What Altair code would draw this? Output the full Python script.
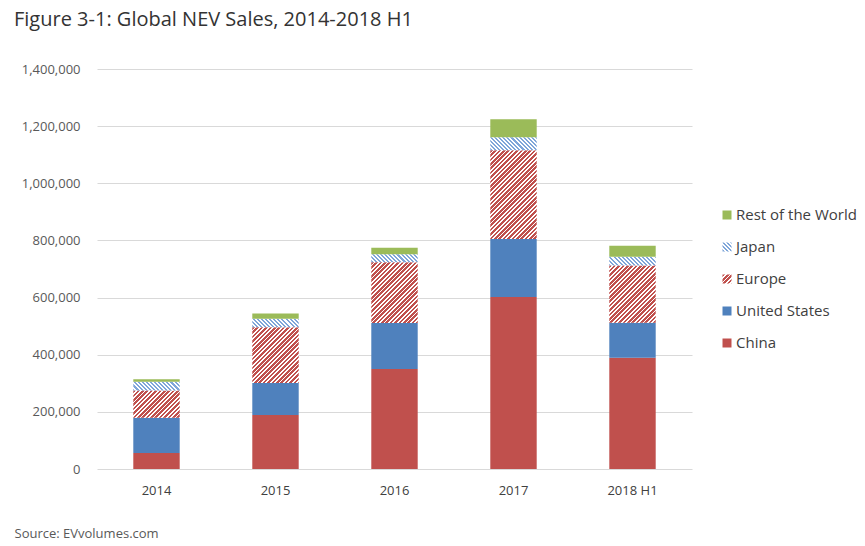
import math
import altair as alt
import pandas as pd

# ---- data ----
years = ["2014", "2015", "2016", "2017", "2018 H1"]
regions = ["China", "United States", "Europe", "Japan", "Rest of the World"]
china = [56000, 189000, 350000, 602000, 389000]
united_states = [123000, 112000, 161000, 203000, 123000]
europe = [96000, 195000, 213000, 311000, 200000]
japan = [30000, 30000, 28000, 45000, 31000]
rest_of_world = [9000, 18000, 22000, 63000, 38000]
y_ticks = [0, 200000, 400000, 600000, 800000, 1000000, 1200000, 1400000]

series = {
    "China": china,
    "United States": united_states,
    "Europe": europe,
    "Japan": japan,
    "Rest of the World": rest_of_world,
}

# ---- style ----
RED = "#C0504D"
BLUE = "#4F81BD"
GREEN = "#9BBB59"
EU_STRIPE = "#C0504D"
JP_STRIPE = "#7FA6D9"
FONT = "Open Sans"

W, H = 595, 400
YMAX = 1400000
PAD_IN = 0.61
PAD_OUT = PAD_IN / 2
step = W / (len(years) - PAD_IN + 2 * PAD_OUT)
bar_w = step * (1 - PAD_IN)


def hatch(w, h, color, period, frac, direction):
    """Diagonal stripes as a hard-stop linear gradient (bbox units)."""
    h = max(h, 0.5)
    L = (w + h) / math.sqrt(2)
    n = max(1.0, L / period)
    c = (w + h) / (w * w + h * h)
    if direction == "/":
        x1, y1, x2, y2 = 0, 0, c * w, c * h
    else:
        x1, y1, x2, y2 = 0, 1, c * w, 1 - c * h
    stops = []
    k = 0
    while k / n < 1:
        a = k / n
        b = min((k + frac) / n, 1)
        e = min((k + 1) / n, 1)
        stops += [
            {"offset": round(a, 5), "color": color},
            {"offset": round(b, 5), "color": color},
            {"offset": round(b, 5), "color": "#FFFFFF"},
            {"offset": round(e, 5), "color": "#FFFFFF"},
        ]
        k += 1
    return {"gradient": "linear", "x1": x1, "y1": y1, "x2": x2, "y2": y2, "stops": stops}


rows = []
for r_i, r in enumerate(regions):
    for y_i, yr in enumerate(years):
        rows.append({"year": yr, "region": r, "value": series[r][y_i], "order": r_i})
df = pd.DataFrame(rows)

hatched = [("Europe", EU_STRIPE, 0.6, 3.1, "/"), ("Japan", JP_STRIPE, 0.5, 2.9, "\\")]

conds = []
for r, col, frac, per, d in hatched:
    for y_i, yr in enumerate(years):
        hh = series[r][y_i] * H / YMAX
        conds.append({
            "test": f"datum.region === '{r}' && datum.year === '{yr}'",
            "value": hatch(bar_w, hh, col, per, frac, d),
        })

color_scale = alt.Scale(domain=regions, range=[RED, BLUE, "#E8A3A1", "#B8CCE8", GREEN])

bars = alt.Chart(df).mark_bar().encode(
    x=alt.X(
        "year:N",
        sort=years,
        scale=alt.Scale(paddingInner=PAD_IN, paddingOuter=PAD_OUT),
        axis=alt.Axis(
            title="Source: EVvolumes.com",
            titleX=-83,
            titleY=64,
            titleAlign="left",
            titleBaseline="middle",
            titleFont=FONT,
            titleFontSize=13,
            titleFontWeight="normal",
            titleColor="#595959",
            labelAngle=0,
            labelFont=FONT,
            labelFontSize=13,
            labelColor="#404040",
            labelPadding=15,
            ticks=False,
            domain=False,
        ),
    ),
    y=alt.Y(
        "value:Q",
        stack="zero",
        scale=alt.Scale(domain=[0, YMAX], nice=False),
        axis=alt.Axis(
            values=y_ticks,
            format=",d",
            title=None,
            labelFont=FONT,
            labelFontSize=13,
            labelColor="#595959",
            labelPadding=17,
            ticks=False,
            domain=False,
            gridColor="#D9D9D9",
            gridWidth=1,
        ),
    ),
    fill=alt.Fill("region:N", scale=color_scale, legend=None, condition=conds),
    order=alt.Order("order:Q", sort="ascending"),
).properties(width=W, height=H)

# ---- custom legend ----
leg_df = pd.DataFrame({"region": regions, "order": list(range(len(regions)))})
leg_conds = []
for r, col, frac, per, d in hatched:
    leg_conds.append({
        "test": f"datum.region === '{r}'",
        "value": hatch(9, 9, col, per, frac, d),
    })

leg_base = alt.Chart(leg_df).encode(
    y=alt.Y("order:Q", scale=alt.Scale(domain=[-3.9375, 8.5625], nice=False, zero=False), axis=None)
)
leg_sq = leg_base.mark_square(size=81, opacity=1).encode(
    x=alt.value(15),
    fill=alt.Fill("region:N", scale=color_scale, legend=None, condition=leg_conds),
)
leg_txt = leg_base.mark_text(
    align="left", baseline="middle", font=FONT, fontSize=15, color="#404040"
).encode(x=alt.value(24), text="region:N")
legend = alt.layer(leg_sq, leg_txt).properties(width=140, height=H)

chart = alt.hconcat(bars, legend, spacing=20).properties(
    title=alt.TitleParams(
        "Figure 3-1: Global NEV Sales, 2014-2018 H1",
        anchor="start",
        font=FONT,
        fontSize=20,
        fontWeight="normal",
        color="#333333",
        offset=33,
    ),
    padding={"left": 14, "top": 10, "right": 0, "bottom": 0},
    background="#FFFFFF",
).configure_view(stroke=None)

chart.save("out.html", embed_options={"renderer": "svg", "actions": False})
